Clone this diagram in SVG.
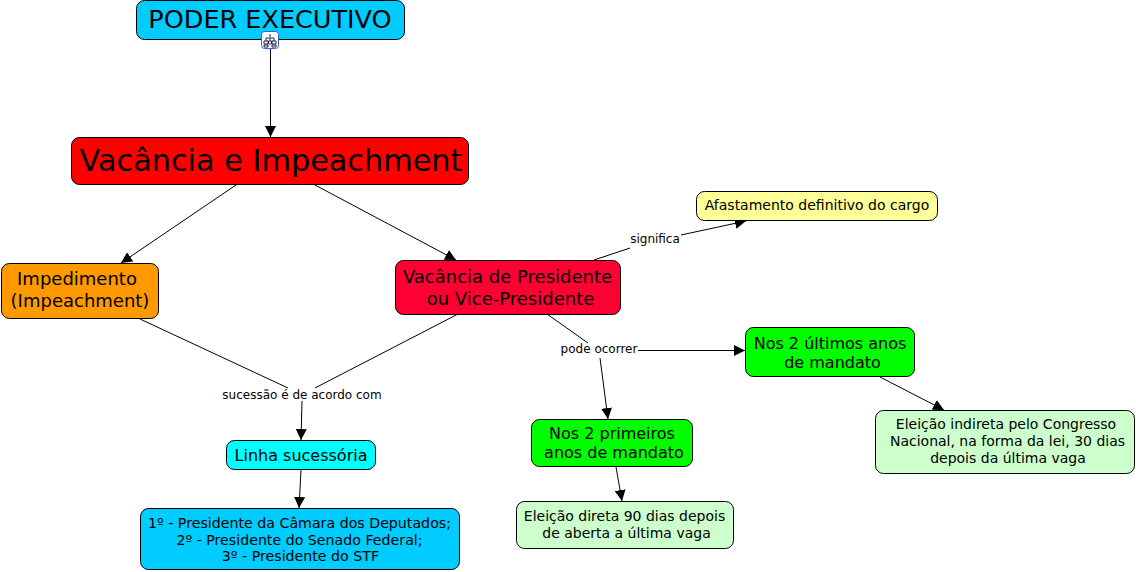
<svg xmlns="http://www.w3.org/2000/svg" width="1136" height="572" viewBox="0 0 1136 572">
<style>
text{font-family:"DejaVu Sans",Verdana,sans-serif;fill:#000;text-anchor:middle}
.n{stroke:#000;stroke-width:1}
.c line{stroke:#000;stroke-width:1}
.l{font-size:12px}
.s14{font-size:14px}
.s14b{font-size:14.200px}
.s16{font-size:16px}
.s18{font-size:18px}
</style>
<defs>
<marker id="a" markerUnits="userSpaceOnUse" markerWidth="12" markerHeight="11" refX="11" refY="5.5" orient="auto"><path d="M0 0L11 5.5L0 11Z" fill="#000"/></marker>
</defs>
<rect width="1136" height="572" fill="#fff"/>
<g id="connectors" class="c">
<line x1="270.500" y1="48" x2="270.500" y2="137" marker-end="url(#a)"/>
<line x1="236" y1="185" x2="121" y2="263" marker-end="url(#a)"/>
<line x1="315" y1="185" x2="456" y2="260" marker-end="url(#a)"/>
<line x1="594" y1="260" x2="630" y2="248"/>
<line x1="681" y1="235" x2="746" y2="221" marker-end="url(#a)"/>
<line x1="140" y1="319" x2="288" y2="388"/>
<line x1="458" y1="314" x2="315" y2="388"/>
<line x1="302" y1="401" x2="301" y2="440" marker-end="url(#a)"/>
<line x1="547" y1="314" x2="588" y2="343"/>
<line x1="638" y1="350.500" x2="745" y2="350.500" marker-end="url(#a)"/>
<line x1="600" y1="358" x2="608" y2="419" marker-end="url(#a)"/>
<line x1="880" y1="377" x2="944" y2="410" marker-end="url(#a)"/>
<line x1="301" y1="470" x2="299" y2="508" marker-end="url(#a)"/>
<line x1="616" y1="467" x2="622" y2="501" marker-end="url(#a)"/>
</g>
<g id="link-labels">
<text class="l" x="655" y="243">significa</text>
<text class="l" x="302" y="399">sucessão é de acordo com</text>
<text class="l" x="599" y="353">pode ocorrer</text>
</g>
<g id="poder"><rect class="n" x="136.500" y="0.500" width="268" height="39" rx="8" fill="#00ccff"/><text x="270" y="28" font-size="25.500">PODER EXECUTIVO</text></g>
<g id="icon"><rect x="261.500" y="31.500" width="17" height="17" rx="3" fill="#fff" stroke="#36c"/><path d="M270 34v3M266 38h8M266 38v3M274 38v3M270 38v3M264 41h4v3h-4zM268.500 41h3v3h-3zM272 41h4v3h-4zM264 45h4v2h-4zM272 45h4v2h-4z" fill="none" stroke="#225" stroke-width="1"/></g>
<g id="vacancia"><rect class="n" x="71.500" y="137.500" width="397" height="47" rx="8" fill="#ff0000"/><text x="271" y="171" font-size="30.300">Vacância e Impeachment</text></g>
<g id="impedimento"><rect class="n" x="1.500" y="263.500" width="157" height="55" rx="8" fill="#ff9900"/><text class="s18" x="77" y="285">Impedimento</text><text class="s18" x="80" y="307">(Impeachment)</text></g>
<g id="vac-pres"><rect class="n" x="395.500" y="260.500" width="225" height="54" rx="8" fill="#ff0033"/><text class="s18" x="507.500" y="283">Vacância de Presidente</text><text class="s18" x="510.500" y="305">ou Vice-Presidente</text></g>
<g id="afast"><rect class="n" x="696.500" y="191.500" width="241" height="29" rx="8" fill="#ffff99"/><text class="s14" x="817" y="210">Afastamento definitivo do cargo</text></g>
<g id="ult"><rect class="n" x="745.500" y="327.500" width="169" height="49" rx="8" fill="#00ff00"/><text class="s16" x="830" y="349">Nos 2 últimos anos</text><text class="s16" x="832.500" y="368">de mandato</text></g>
<g id="indireta"><rect class="n" x="875.500" y="410.500" width="259" height="63" rx="8" fill="#ccffcc"/><text class="s14" x="1006" y="429">Eleição indireta pelo Congresso</text><text class="s14" x="1007.500" y="446">Nacional, na forma da lei, 30 dias</text><text class="s14" x="1008" y="463">depois da última vaga</text></g>
<g id="prim"><rect class="n" x="531.500" y="419.500" width="161" height="47" rx="8" fill="#00ff00"/><text class="s16" x="612" y="439">Nos 2 primeiros</text><text class="s16" x="614" y="458">anos de mandato</text></g>
<g id="direta"><rect class="n" x="516.500" y="501.500" width="217" height="47" rx="8" fill="#ccffcc"/><text class="s14" x="624.500" y="521">Eleição direta 90 dias depois</text><text class="s14" x="626.500" y="538">de aberta a última vaga</text></g>
<g id="linha"><rect class="n" x="226.500" y="440.500" width="149" height="29" rx="8" fill="#00ffff"/><text class="s16" x="301" y="461">Linha sucessória</text></g>
<g id="pres"><rect class="n" x="140.500" y="508.500" width="319" height="61" rx="8" fill="#00ccff"/><text class="s14b" x="299.500" y="528">1º - Presidente da Câmara dos Deputados;</text><text class="s14b" x="299.500" y="545">2º - Presidente do Senado Federal;</text><text class="s14b" x="300.500" y="561">3º - Presidente do STF</text></g>
</svg>
